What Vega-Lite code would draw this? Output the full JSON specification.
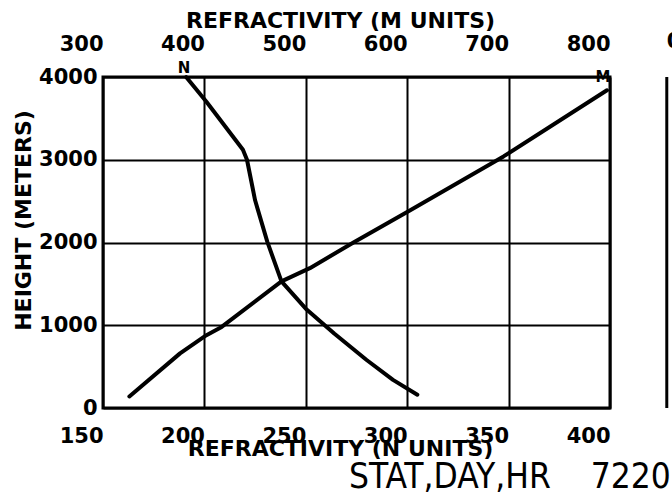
{
  "$schema": "https://vega.github.io/schema/vega-lite/v6.json",
  "width": 507,
  "height": 331,
  "autosize": {"type": "none"},
  "padding": {"left": 103, "top": 77, "right": 62, "bottom": 93},
  "background": "white",
  "config": {
    "view": {"stroke": "black", "strokeWidth": 3},
    "axis": {
      "labelFont": "DejaVu Sans",
      "labelFontWeight": "bold",
      "labelFontSize": 21,
      "labelColor": "black",
      "titleFont": "DejaVu Sans",
      "titleFontWeight": "bold",
      "titleFontSize": 22,
      "titleColor": "black",
      "domain": false,
      "ticks": false,
      "tickSize": 0,
      "labelFlush": false,
      "labelOverlap": false,
      "gridColor": "black",
      "gridOpacity": 1,
      "gridWidth": 2
    }
  },
  "title": {
    "text": "STAT,DAY,HR\u00a0\u00a0\u00a0 72201",
    "orient": "bottom",
    "anchor": "start",
    "frame": "group",
    "font": "Liberation Sans Narrow, DejaVu Sans Condensed, Liberation Sans",
    "fontSize": 35,
    "fontWeight": "normal",
    "color": "black",
    "dx": 246,
    "offset": 1
  },
  "datasets": {
    "n": [
      {"N": 191, "height": 4000},
      {"N": 201, "height": 3700},
      {"N": 219, "height": 3120},
      {"N": 221, "height": 3000},
      {"N": 225, "height": 2510},
      {"N": 231, "height": 2010},
      {"N": 238, "height": 1530},
      {"N": 250, "height": 1200},
      {"N": 264, "height": 900},
      {"N": 280, "height": 580},
      {"N": 293, "height": 340},
      {"N": 305, "height": 160}
    ],
    "m": [
      {"M": 326, "height": 140},
      {"M": 376, "height": 660},
      {"M": 402, "height": 880},
      {"M": 417, "height": 980},
      {"M": 476, "height": 1530},
      {"M": 504, "height": 1690},
      {"M": 547, "height": 2000},
      {"M": 603, "height": 2390},
      {"M": 695, "height": 3040},
      {"M": 797, "height": 3840}
    ],
    "nlabel": [{"N": 191, "height": 4000, "label": "N"}],
    "mlabel": [{"M": 797, "height": 3840, "label": "M"}],
    "nextpanel": [{"M": 856, "height": 0, "height2": 4000, "label": "0"}]
  },
  "layer": [
    {
      "layer": [
        {
          "data": {"name": "n"},
          "mark": {"type": "line", "color": "black", "strokeWidth": 4, "strokeCap": "round", "strokeJoin": "round"},
          "encoding": {
            "x": {
              "field": "N", "type": "quantitative",
              "scale": {"domain": [150, 400], "nice": false, "zero": false},
              "axis": {
                "orient": "bottom",
                "values": [150, 200, 250, 300, 350, 400],
                "format": "d",
                "grid": true,
                "labelAlign": "right",
                "labelDx": -5,
                "labelBaseline": "alphabetic",
                "labelPadding": 34,
                "title": "REFRACTIVITY (N UNITS)",
                "titleX": 237,
                "titleY": 47,
                "titleAlign": "center",
                "titleBaseline": "alphabetic"
              }
            },
            "y": {
              "field": "height", "type": "quantitative",
              "scale": {"domain": [0, 4000], "nice": false, "zero": false},
              "axis": {
                "values": [0, 1000, 2000, 3000, 4000],
                "format": "d",
                "grid": true,
                "labelAlign": "right",
                "labelBaseline": "middle",
                "labelPadding": 6,
                "title": "HEIGHT (METERS)",
                "titleAngle": -90,
                "titleX": -80,
                "titleY": 143,
                "titleAlign": "center",
                "titleBaseline": "middle"
              }
            }
          }
        },
        {
          "data": {"name": "nlabel"},
          "mark": {"type": "text", "font": "DejaVu Sans", "fontWeight": "bold", "fontSize": 15, "color": "black", "align": "center", "baseline": "alphabetic", "dx": -2, "dy": -4},
          "encoding": {
            "x": {"field": "N", "type": "quantitative"},
            "y": {"field": "height", "type": "quantitative"},
            "text": {"field": "label"}
          }
        }
      ]
    },
    {
      "layer": [
        {
          "data": {"name": "m"},
          "mark": {"type": "line", "color": "black", "strokeWidth": 4, "strokeCap": "round", "strokeJoin": "round"},
          "encoding": {
            "x": {
              "field": "M", "type": "quantitative",
              "scale": {"domain": [300, 800], "nice": false, "zero": false},
              "axis": {
                "orient": "top",
                "values": [300, 400, 500, 600, 700, 800],
                "format": "d",
                "grid": false,
                "labelAlign": "right",
                "labelDx": -6,
                "labelBaseline": "alphabetic",
                "labelPadding": 27,
                "title": "REFRACTIVITY (M UNITS)",
                "titleX": 237,
                "titleY": -50,
                "titleAlign": "center",
                "titleBaseline": "alphabetic"
              }
            },
            "y": {"field": "height", "type": "quantitative"}
          }
        },
        {
          "data": {"name": "mlabel"},
          "mark": {"type": "text", "font": "DejaVu Sans", "fontWeight": "bold", "fontSize": 15, "color": "black", "align": "center", "baseline": "alphabetic", "dx": -4, "dy": -8},
          "encoding": {
            "x": {"field": "M", "type": "quantitative"},
            "y": {"field": "height", "type": "quantitative"},
            "text": {"field": "label"}
          }
        },
        {
          "data": {"name": "nextpanel"},
          "mark": {"type": "rule", "color": "black", "strokeWidth": 3},
          "encoding": {
            "x": {"field": "M", "type": "quantitative"},
            "y": {"field": "height", "type": "quantitative"},
            "y2": {"field": "height2"}
          }
        },
        {
          "data": {"name": "nextpanel"},
          "mark": {"type": "text", "font": "DejaVu Sans", "fontWeight": "bold", "fontSize": 21, "color": "black", "align": "left", "baseline": "alphabetic", "dx": 0, "dy": -29},
          "encoding": {
            "x": {"field": "M", "type": "quantitative"},
            "y": {"field": "height2", "type": "quantitative"},
            "text": {"field": "label"}
          }
        }
      ]
    }
  ],
  "resolve": {"scale": {"x": "independent"}}
}
